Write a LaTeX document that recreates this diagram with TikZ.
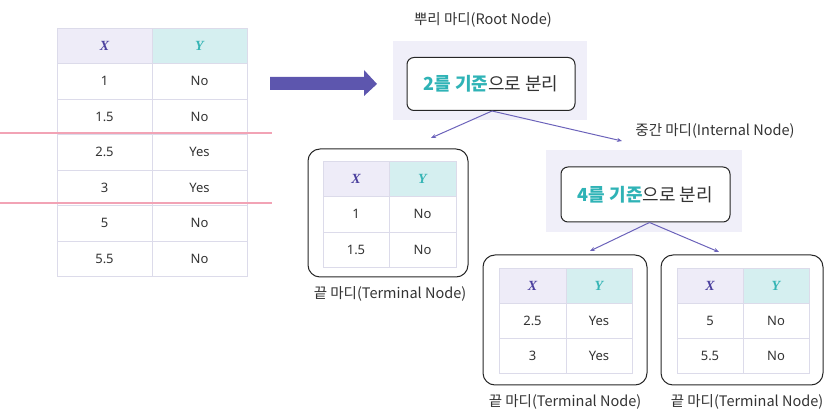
\documentclass[tikz,border=0pt]{standalone}
\usepackage{fontspec}
\setmainfont{Noto Sans}
\newfontfamily\kr{Noto Sans CJK KR}
\newfontfamily\hdrfont{Liberation Serif}
\usetikzlibrary{arrows.meta}
\definecolor{hxc}{HTML}{EEECF8}
\definecolor{hyc}{HTML}{D5EFF0}
\definecolor{gridc}{HTML}{DCDBEA}
\definecolor{xtext}{HTML}{4A3F9E}
\definecolor{ytext}{HTML}{35B5B5}
\definecolor{pinkc}{HTML}{F2A3B5}
\definecolor{arrowc}{HTML}{5D56AE}
\definecolor{linec}{HTML}{6B62BA}
\definecolor{bgc}{HTML}{F0EFF9}
\definecolor{tealc}{HTML}{2FB3B6}
\definecolor{darkt}{HTML}{333333}
\tikzset{
  cell/.style={inner sep=0pt, font=\fontsize{13}{15}\selectfont, text=darkt},
  hdrx/.style={inner sep=0pt, font=\hdrfont\fontsize{14}{16}\selectfont\bfseries\itshape, text=xtext},
  hdry/.style={inner sep=0pt, font=\hdrfont\fontsize{14}{16}\selectfont\bfseries\itshape, text=ytext},
  lbl/.style={inner sep=0pt, font=\kr\fontsize{14.5}{16}\selectfont, text=darkt},
  splitbox/.style={draw=black!85, line width=1pt, rounded corners=7pt, fill=white, font=\kr\fontsize{18}{20}\selectfont, text=darkt, inner sep=0pt},
  termbox/.style={draw=black!85, line width=1pt, rounded corners=12pt, inner sep=0pt},
  conn/.style={draw=linec, line width=1pt, -{Stealth[length=5pt,width=4pt]}},
  gridline/.style={draw=gridc, line width=0.8pt}
}
\newcommand{\datatable}[7]{%
  \fill[hxc] (#2,#5) rectangle (#3,#5+#6);
  \fill[hyc] (#3,#5) rectangle (#4,#5+#6);
  \draw[gridline] (#2,#5) rectangle (#3,#5+#6);
  \draw[gridline] (#3,#5) rectangle (#4,#5+#6);
  \node[hdrx] (#1hx) at ({(#2+#3)/2},{#5+#6/2}) {X};
  \node[hdry] (#1hy) at ({(#3+#4)/2},{#5+#6/2}) {Y};
  \foreach \a/\b [count=\i] in {#7} {
    \draw[gridline] (#2,{#5+\i*#6}) rectangle (#3,{#5+(\i+1)*#6});
    \draw[gridline] (#3,{#5+\i*#6}) rectangle (#4,{#5+(\i+1)*#6});
    \node[cell] (#1a\i) at ({(#2+#3)/2},{#5+\i*#6+#6/2}) {\a};
    \node[cell] (#1b\i) at ({(#3+#4)/2},{#5+\i*#6+#6/2}) {\b};
  }%
}
\begin{document}
\begin{tikzpicture}[x=1pt,y=-1pt]
\useasboundingbox (0,0) rectangle (831,419);
% main table
\datatable{m}{57}{152}{247}{28}{35.5}{1/No,1.5/No,2.5/Yes,3/Yes,5/No,5.5/No}
\draw[pinkc, line width=1.2pt] (0,133) -- (272,133);
\draw[pinkc, line width=1.2pt] (0,203) -- (272,203);
% big arrow
\fill[arrowc] (270,77) -- (364,77) -- (364,70) -- (377,84) -- (364,96) -- (364,90) -- (270,90) -- cycle;
% root
\node[lbl] (rootlbl) at (483,20) {뿌리 마디(Root Node)};
\fill[bgc] (393,41) rectangle (587,120);
\node[splitbox, minimum width=168pt, minimum height=53pt] (root) at (491,84)
  {\textcolor{tealc}{\bfseries 2를 기준}으로 분리};
% internal
\node[lbl] (intlbl) at (715,131) {중간 마디(Internal Node)};
\fill[bgc] (546,150) rectangle (742,232);
\node[splitbox, minimum width=169pt, minimum height=55pt] (int) at (645.5,194.5)
  {\textcolor{tealc}{\bfseries 4를 기준}으로 분리};
% terminal 1
\node[termbox, minimum width=160pt, minimum height=128pt] (t1) at (388,213) {};
\datatable{p}{323}{389}{456}{161}{35.5}{1/No,1.5/No}
\node[lbl] (t1lbl) at (390,294) {끝 마디(Terminal Node)};
% terminal 2
\node[termbox, minimum width=164pt, minimum height=130pt] (t2) at (565,320) {};
\datatable{q}{499}{566}{632}{268}{35}{2.5/Yes,3/Yes}
\node[lbl] (t2lbl) at (565,402) {끝 마디(Terminal Node)};
% terminal 3
\node[termbox, minimum width=162pt, minimum height=130pt] (t3) at (742,320) {};
\datatable{r}{677}{743}{809}{268}{35}{5/No,5.5/No}
\node[lbl] (t3lbl) at (747,402) {끝 마디(Terminal Node)};
% connectors
\coordinate (e1) at (431,138);
\coordinate (e2) at (622,141);
\coordinate (e3) at (590,251);
\coordinate (e4) at (719,252);
\draw[conn] (root.south) ++(1,0) coordinate (rs) -- (e1);
\draw[conn] (rs) -- (e2);
\draw[conn] (int.south) ++(4,0) coordinate (is) -- (e3);
\draw[conn] (is) -- (e4);
\end{tikzpicture}
\end{document}
